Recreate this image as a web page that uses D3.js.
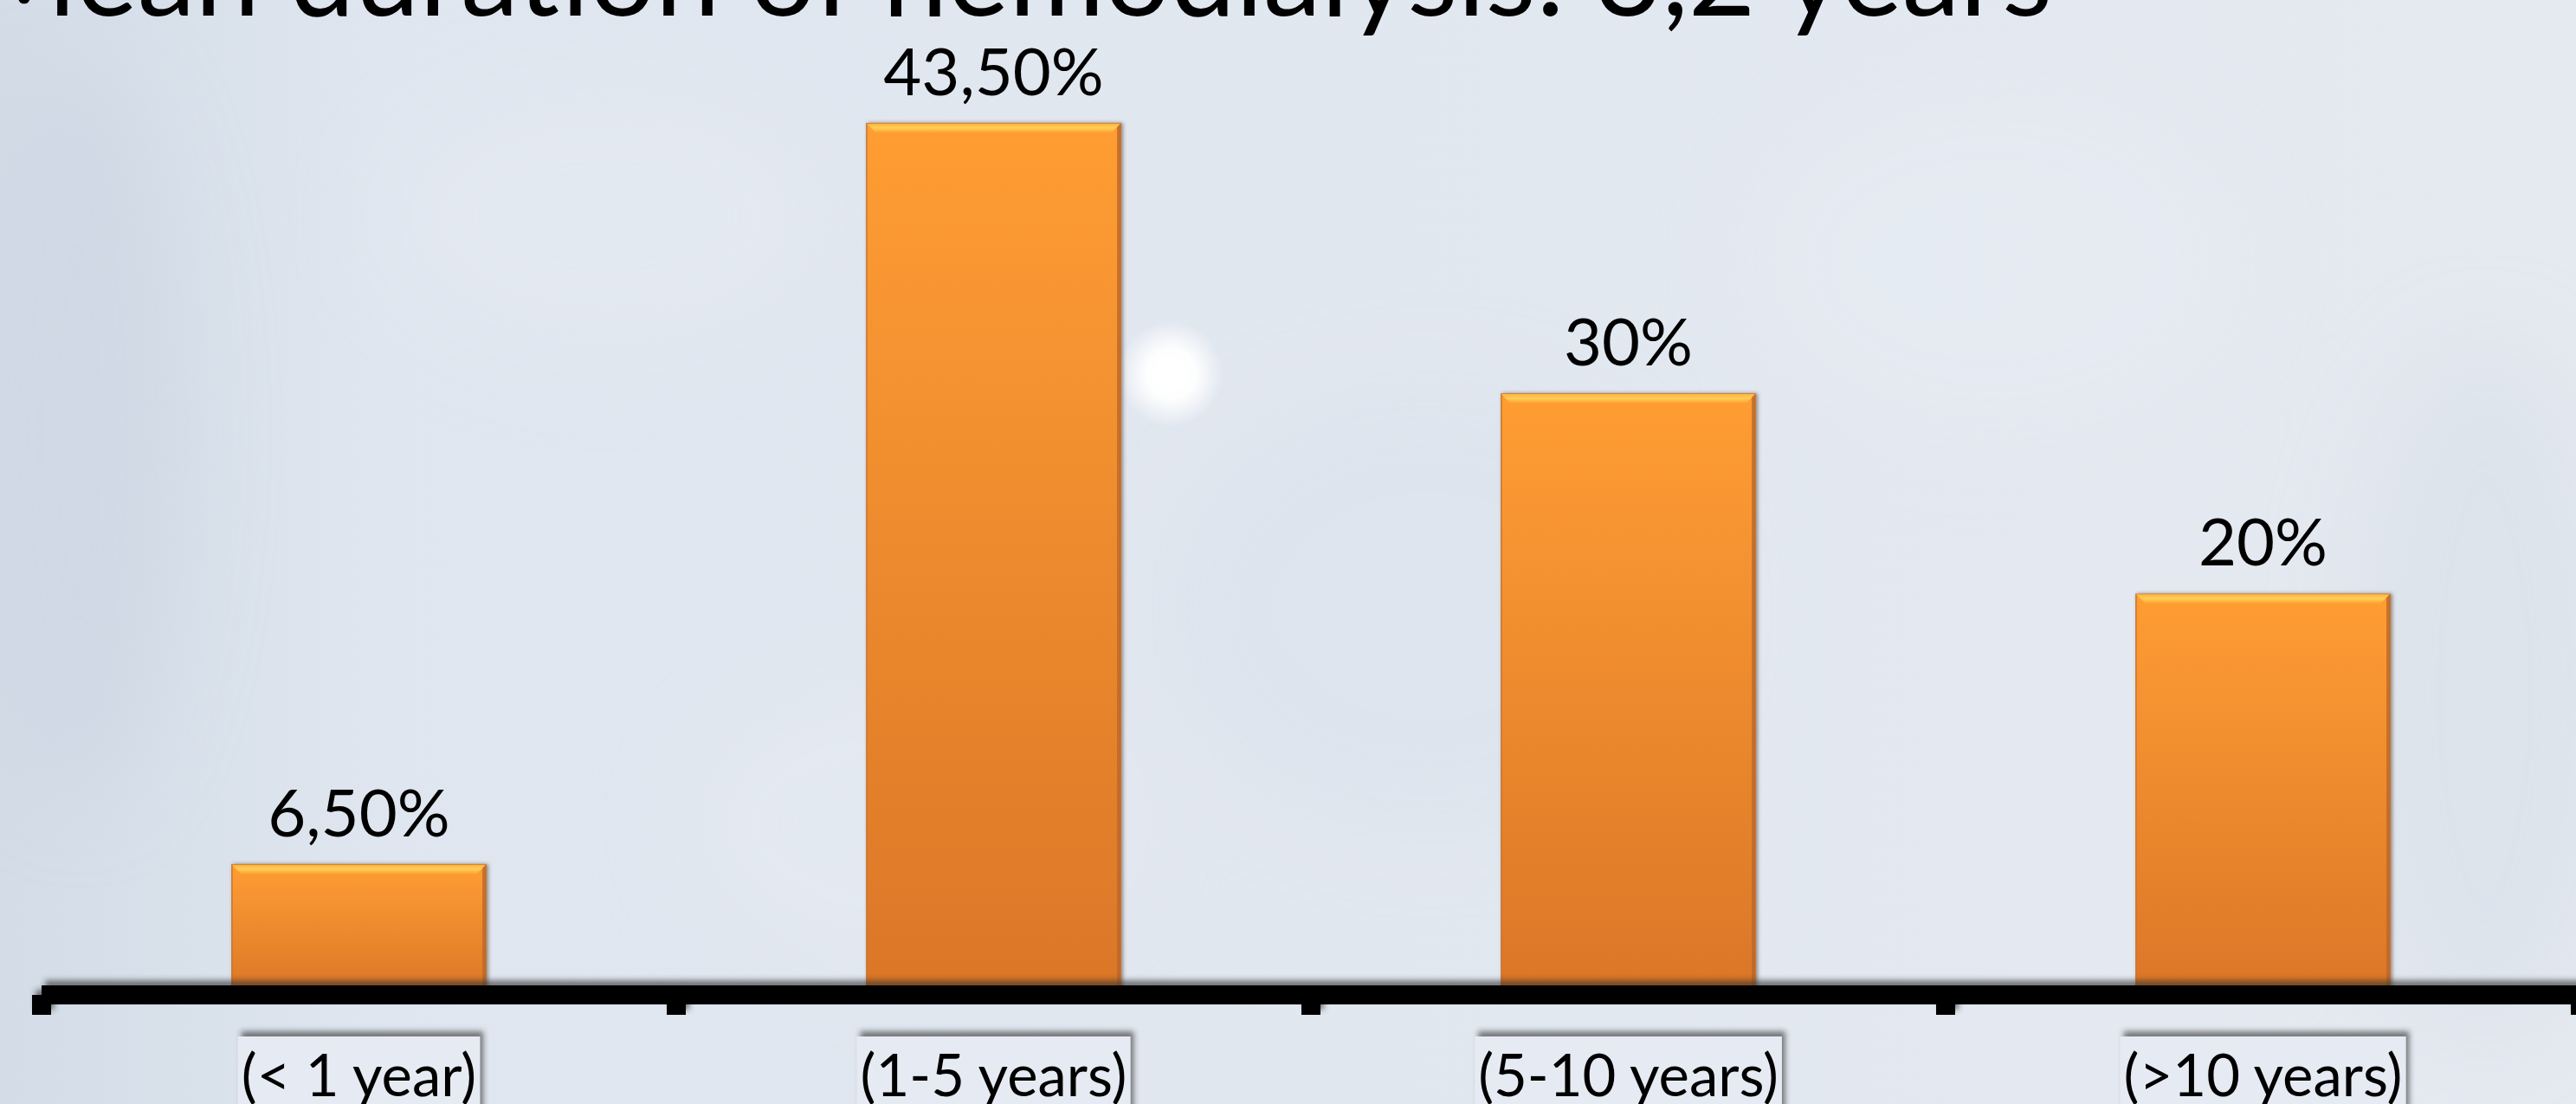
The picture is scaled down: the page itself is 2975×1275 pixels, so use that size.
<!DOCTYPE html>
<html>
<head>
<meta charset="utf-8">
<title>Mean duration of hemodialysis</title>
<script src="https://d3js.org/d3.v7.min.js"></script>
<style>
  html, body { margin: 0; padding: 0; overflow: hidden; background: #e1e7f0; }
  svg { display: block; font-family: Lato, "Open Sans", sans-serif; }
</style>
</head>
<body>
<div id="chart"></div>
<script>
// ---------------- data ----------------
const categories = ["(< 1 year)", "(1-5 years)", "(5-10 years)", "(>10 years)"];
const values = [6.5, 43.5, 30, 20];
const valueLabels = ["6,50%", "43,50%", "30%", "20%"];
const titleText = "Mean duration of hemodialysis: 3,2 years";

// ---------------- layout ----------------
const W = 2975, H = 1275;
const axisY = 1149;

const svg = d3.select("#chart").append("svg")
    .attr("width", W)
    .attr("height", H);

const defs = svg.append("defs");

// background gradient
let bg = defs.append("linearGradient").attr("id", "bg").attr("x1", 0).attr("x2", 1).attr("y1", 0).attr("y2", 0);
bg.append("stop").attr("offset", "0%").attr("stop-color", "#d3dce7");
bg.append("stop").attr("offset", "15%").attr("stop-color", "#dfe6ef");
bg.append("stop").attr("offset", "60%").attr("stop-color", "#e2e8f0");
bg.append("stop").attr("offset", "100%").attr("stop-color", "#e5eaf1");

// bar gradient
let bar = defs.append("linearGradient").attr("id", "barFill").attr("x1", 0).attr("x2", 0).attr("y1", 0).attr("y2", 1);
bar.append("stop").attr("offset", "0%").attr("stop-color", "#ff9d33");
bar.append("stop").attr("offset", "100%").attr("stop-color", "#db7628");

let bevel = defs.append("linearGradient").attr("id", "bevelTop").attr("x1", 0).attr("x2", 0).attr("y1", 0).attr("y2", 1);
bevel.append("stop").attr("offset", "0%").attr("stop-color", "#ffb23d");
bevel.append("stop").attr("offset", "45%").attr("stop-color", "#ffcf55");
bevel.append("stop").attr("offset", "100%").attr("stop-color", "#ff9d33");

let glow = defs.append("radialGradient").attr("id", "glow");
glow.append("stop").attr("offset", "0%").attr("stop-color", "#ffffff").attr("stop-opacity", 1);
glow.append("stop").attr("offset", "45%").attr("stop-color", "#ffffff").attr("stop-opacity", 0.95);
glow.append("stop").attr("offset", "100%").attr("stop-color", "#ffffff").attr("stop-opacity", 0);

defs.append("filter").attr("id", "blur").attr("x", "-50%").attr("y", "-50%").attr("width", "200%").attr("height", "200%")
    .append("feGaussianBlur").attr("stdDeviation", 50);

defs.append("filter").attr("id", "shadow").attr("x", "-10%").attr("y", "-50%").attr("width", "120%").attr("height", "200%")
    .append("feDropShadow").attr("dx", 4).attr("dy", -6).attr("stdDeviation", 3)
    .attr("flood-color", "#2a2a2a").attr("flood-opacity", 0.6);

defs.append("filter").attr("id", "barShadow").attr("x", "-10%").attr("y", "-10%").attr("width", "120%").attr("height", "120%")
    .append("feDropShadow").attr("dx", 2).attr("dy", 0).attr("stdDeviation", 2)
    .attr("flood-color", "#5a4030").attr("flood-opacity", 0.6);

// ---------------- background ----------------
svg.append("rect").attr("width", W).attr("height", H).attr("fill", "url(#bg)");

// soft mottling, kept faint
let blobs = svg.append("g").attr("filter", "url(#blur)");
blobs.append("ellipse").attr("cx", 90).attr("cy", 500).attr("rx", 120).attr("ry", 420).attr("fill", "#cdd6e3").attr("opacity", 0.6);
blobs.append("ellipse").attr("cx", 700).attr("cy", 250).attr("rx", 260).attr("ry", 160).attr("fill", "#e9eef5").attr("opacity", 0.4);
blobs.append("ellipse").attr("cx", 1650).attr("cy", 700).attr("rx", 300).attr("ry", 250).attr("fill", "#d9e1eb").attr("opacity", 0.5);
blobs.append("ellipse").attr("cx", 2300).attr("cy", 300).attr("rx", 280).attr("ry", 200).attr("fill", "#e8edf4").attr("opacity", 0.5);
blobs.append("ellipse").attr("cx", 2870).attr("cy", 800).attr("rx", 160).attr("ry", 400).attr("fill", "#d6dee8").attr("opacity", 0.5);
blobs.append("ellipse").attr("cx", 1050).attr("cy", 950).attr("rx", 260).attr("ry", 170).attr("fill", "#e8edf4").attr("opacity", 0.4);

svg.append("circle").attr("cx", 1352).attr("cy", 432).attr("r", 62).attr("fill", "url(#glow)");

// ---------------- scales ----------------
const xScale = d3.scaleBand()
    .domain(categories)
    .range([48, 48 + 4 * 733])
    .paddingInner(0.6)
    .paddingOuter(0.3);

const yScale = d3.scaleLinear()
    .domain([0, 45])
    .range([axisY, 108]);

// ---------------- title ----------------
let title = svg.append("text")
    .attr("x", 2370)
    .attr("y", 18)
    .attr("text-anchor", "end")
    .attr("font-size", 110)
    .attr("fill", "#000")
    .text(titleText);
// fit to the width seen in the reference
let tl = title.node().getComputedTextLength();
title.attr("font-size", 110 * 2405 / tl);

// ---------------- bars ----------------
let bars = svg.selectAll("g.bar")
    .data(values).enter()
    .append("g")
    .attr("class", "bar")
    .attr("filter", "url(#barShadow)");

bars.append("rect")
    .attr("x", function(d, i) { return xScale(categories[i]); })
    .attr("y", function(d) { return yScale(d); })
    .attr("width", xScale.bandwidth())
    .attr("height", function(d) { return yScale(0) - yScale(d); })
    .attr("fill", "url(#barFill)")
    .attr("stroke", "#c8752e")
    .attr("stroke-width", 1.5);

// top bevel
bars.append("path")
    .attr("d", function(d, i) {
      let x = xScale(categories[i]), y = yScale(d), w = xScale.bandwidth(), b = 11;
      return "M" + x + "," + y + "L" + (x + w) + "," + y + "L" + (x + w - b) + "," + (y + b) + "L" + (x + b) + "," + (y + b) + "Z";
    })
    .attr("fill", "url(#bevelTop)");

// right dark edge
bars.append("path")
    .attr("d", function(d, i) {
      let x = xScale(categories[i]), y = yScale(d), w = xScale.bandwidth(), b = 4;
      return "M" + (x + w) + "," + y + "L" + (x + w) + "," + yScale(0) + "L" + (x + w - b) + "," + yScale(0) + "L" + (x + w - b) + "," + (y + b) + "Z";
    })
    .attr("fill", "#b9682a")
    .attr("opacity", 0.8);

// value labels
svg.selectAll("text.val")
    .data(values).enter()
    .append("text")
    .attr("class", "val")
    .attr("x", function(d, i) { return xScale(categories[i]) + xScale.bandwidth() / 2; })
    .attr("y", function(d) { return yScale(d) - 33; })
    .attr("text-anchor", "middle")
    .attr("font-size", 76)
    .attr("fill", "#000")
    .text(function(d, i) { return valueLabels[i]; });

// ---------------- axis ----------------
let axis = svg.append("g").attr("filter", "url(#shadow)");
let x0 = xScale.range()[0];
axis.append("rect")
    .attr("x", x0)
    .attr("y", axisY - 11)
    .attr("width", W - x0 + 20)
    .attr("height", 22)
    .attr("fill", "#000");

axis.selectAll("rect.tick")
    .data(d3.range(categories.length + 1)).enter()
    .append("rect")
    .attr("class", "tick")
    .attr("x", function(i) { return x0 + i * xScale.step() - 11; })
    .attr("y", axisY)
    .attr("width", 22)
    .attr("height", 23)
    .attr("fill", "#000");

// ---------------- category labels in boxes ----------------
let cat = svg.selectAll("g.cat")
    .data(categories).enter()
    .append("g")
    .attr("class", "cat");

let boxes = cat.append("rect")
    .attr("filter", "url(#shadow)")
    .attr("fill", "#e6ebf3");

let catText = cat.append("text")
    .attr("x", function(d) { return xScale(d) + xScale.bandwidth() / 2; })
    .attr("y", 1266)
    .attr("text-anchor", "middle")
    .attr("font-size", 67)
    .attr("fill", "#000")
    .text(function(d) { return d; });

catText.each(function(d, i) {
  let bb = this.getBBox();
  d3.select(boxes.nodes()[i])
    .attr("x", bb.x - 4)
    .attr("y", 1197)
    .attr("width", bb.width + 8)
    .attr("height", H - 1197 + 20);
});
</script>
</body>
</html>
